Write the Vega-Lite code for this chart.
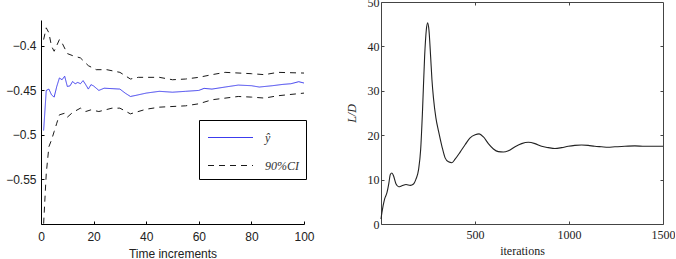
{
  "$schema": "https://vega.github.io/schema/vega-lite/v6.json",
  "background": "white",
  "padding": {"left": 5, "top": -4, "right": 0, "bottom": 0},
  "spacing": 77,
  "bounds": "flush",
  "config": {"view": {"stroke": null}},
  "datasets": {
    "left": [
      {"t": 1, "v": -0.495, "kind": "ŷ", "band": "m"},
      {"t": 2, "v": -0.450, "kind": "ŷ", "band": "m"},
      {"t": 3, "v": -0.4485, "kind": "ŷ", "band": "m"},
      {"t": 4, "v": -0.455, "kind": "ŷ", "band": "m"},
      {"t": 5, "v": -0.4575, "kind": "ŷ", "band": "m"},
      {"t": 6, "v": -0.4455, "kind": "ŷ", "band": "m"},
      {"t": 7, "v": -0.436, "kind": "ŷ", "band": "m"},
      {"t": 8, "v": -0.438, "kind": "ŷ", "band": "m"},
      {"t": 9, "v": -0.434, "kind": "ŷ", "band": "m"},
      {"t": 10, "v": -0.4455, "kind": "ŷ", "band": "m"},
      {"t": 11, "v": -0.445, "kind": "ŷ", "band": "m"},
      {"t": 12, "v": -0.440, "kind": "ŷ", "band": "m"},
      {"t": 13, "v": -0.4425, "kind": "ŷ", "band": "m"},
      {"t": 14, "v": -0.441, "kind": "ŷ", "band": "m"},
      {"t": 15, "v": -0.4425, "kind": "ŷ", "band": "m"},
      {"t": 16, "v": -0.439, "kind": "ŷ", "band": "m"},
      {"t": 17, "v": -0.4435, "kind": "ŷ", "band": "m"},
      {"t": 18, "v": -0.4485, "kind": "ŷ", "band": "m"},
      {"t": 19, "v": -0.4435, "kind": "ŷ", "band": "m"},
      {"t": 20, "v": -0.445, "kind": "ŷ", "band": "m"},
      {"t": 22, "v": -0.450, "kind": "ŷ", "band": "m"},
      {"t": 24, "v": -0.4475, "kind": "ŷ", "band": "m"},
      {"t": 27, "v": -0.448, "kind": "ŷ", "band": "m"},
      {"t": 30, "v": -0.4485, "kind": "ŷ", "band": "m"},
      {"t": 32, "v": -0.453, "kind": "ŷ", "band": "m"},
      {"t": 34, "v": -0.4568, "kind": "ŷ", "band": "m"},
      {"t": 36, "v": -0.4556, "kind": "ŷ", "band": "m"},
      {"t": 40, "v": -0.453, "kind": "ŷ", "band": "m"},
      {"t": 45, "v": -0.451, "kind": "ŷ", "band": "m"},
      {"t": 50, "v": -0.452, "kind": "ŷ", "band": "m"},
      {"t": 55, "v": -0.451, "kind": "ŷ", "band": "m"},
      {"t": 60, "v": -0.450, "kind": "ŷ", "band": "m"},
      {"t": 62, "v": -0.4477, "kind": "ŷ", "band": "m"},
      {"t": 65, "v": -0.4485, "kind": "ŷ", "band": "m"},
      {"t": 70, "v": -0.4462, "kind": "ŷ", "band": "m"},
      {"t": 75, "v": -0.444, "kind": "ŷ", "band": "m"},
      {"t": 80, "v": -0.4447, "kind": "ŷ", "band": "m"},
      {"t": 83, "v": -0.4462, "kind": "ŷ", "band": "m"},
      {"t": 88, "v": -0.4447, "kind": "ŷ", "band": "m"},
      {"t": 92, "v": -0.4432, "kind": "ŷ", "band": "m"},
      {"t": 95, "v": -0.4425, "kind": "ŷ", "band": "m"},
      {"t": 98, "v": -0.4402, "kind": "ŷ", "band": "m"},
      {"t": 100, "v": -0.4417, "kind": "ŷ", "band": "m"},
      {"t": 1, "v": -0.3929, "kind": "90%CI", "band": "u"},
      {"t": 2, "v": -0.3797, "kind": "90%CI", "band": "u"},
      {"t": 3, "v": -0.3853, "kind": "90%CI", "band": "u"},
      {"t": 4, "v": -0.4004, "kind": "90%CI", "band": "u"},
      {"t": 5, "v": -0.406, "kind": "90%CI", "band": "u"},
      {"t": 7, "v": -0.3929, "kind": "90%CI", "band": "u"},
      {"t": 8, "v": -0.3966, "kind": "90%CI", "band": "u"},
      {"t": 10, "v": -0.4086, "kind": "90%CI", "band": "u"},
      {"t": 12, "v": -0.4109, "kind": "90%CI", "band": "u"},
      {"t": 15, "v": -0.4135, "kind": "90%CI", "band": "u"},
      {"t": 18, "v": -0.4222, "kind": "90%CI", "band": "u"},
      {"t": 21, "v": -0.4267, "kind": "90%CI", "band": "u"},
      {"t": 25, "v": -0.4267, "kind": "90%CI", "band": "u"},
      {"t": 30, "v": -0.4297, "kind": "90%CI", "band": "u"},
      {"t": 34, "v": -0.4372, "kind": "90%CI", "band": "u"},
      {"t": 37, "v": -0.4353, "kind": "90%CI", "band": "u"},
      {"t": 45, "v": -0.4353, "kind": "90%CI", "band": "u"},
      {"t": 50, "v": -0.438, "kind": "90%CI", "band": "u"},
      {"t": 55, "v": -0.4372, "kind": "90%CI", "band": "u"},
      {"t": 60, "v": -0.4353, "kind": "90%CI", "band": "u"},
      {"t": 65, "v": -0.4323, "kind": "90%CI", "band": "u"},
      {"t": 70, "v": -0.4297, "kind": "90%CI", "band": "u"},
      {"t": 80, "v": -0.4312, "kind": "90%CI", "band": "u"},
      {"t": 85, "v": -0.4323, "kind": "90%CI", "band": "u"},
      {"t": 90, "v": -0.4297, "kind": "90%CI", "band": "u"},
      {"t": 100, "v": -0.4305, "kind": "90%CI", "band": "u"},
      {"t": 1, "v": -0.5996, "kind": "90%CI", "band": "l"},
      {"t": 2, "v": -0.5432, "kind": "90%CI", "band": "l"},
      {"t": 3, "v": -0.5132, "kind": "90%CI", "band": "l"},
      {"t": 4, "v": -0.5056, "kind": "90%CI", "band": "l"},
      {"t": 5, "v": -0.4962, "kind": "90%CI", "band": "l"},
      {"t": 6, "v": -0.4868, "kind": "90%CI", "band": "l"},
      {"t": 7, "v": -0.4774, "kind": "90%CI", "band": "l"},
      {"t": 9, "v": -0.4756, "kind": "90%CI", "band": "l"},
      {"t": 10, "v": -0.4801, "kind": "90%CI", "band": "l"},
      {"t": 12, "v": -0.4748, "kind": "90%CI", "band": "l"},
      {"t": 15, "v": -0.4699, "kind": "90%CI", "band": "l"},
      {"t": 17, "v": -0.4737, "kind": "90%CI", "band": "l"},
      {"t": 19, "v": -0.4718, "kind": "90%CI", "band": "l"},
      {"t": 22, "v": -0.4737, "kind": "90%CI", "band": "l"},
      {"t": 27, "v": -0.4699, "kind": "90%CI", "band": "l"},
      {"t": 30, "v": -0.4699, "kind": "90%CI", "band": "l"},
      {"t": 34, "v": -0.4763, "kind": "90%CI", "band": "l"},
      {"t": 40, "v": -0.4711, "kind": "90%CI", "band": "l"},
      {"t": 45, "v": -0.4688, "kind": "90%CI", "band": "l"},
      {"t": 55, "v": -0.4673, "kind": "90%CI", "band": "l"},
      {"t": 60, "v": -0.465, "kind": "90%CI", "band": "l"},
      {"t": 65, "v": -0.4605, "kind": "90%CI", "band": "l"},
      {"t": 75, "v": -0.4568, "kind": "90%CI", "band": "l"},
      {"t": 80, "v": -0.4575, "kind": "90%CI", "band": "l"},
      {"t": 85, "v": -0.4586, "kind": "90%CI", "band": "l"},
      {"t": 90, "v": -0.456, "kind": "90%CI", "band": "l"},
      {"t": 100, "v": -0.453, "kind": "90%CI", "band": "l"}
    ],
    "right": [
      {"it": 0, "ld": 1.1}, {"it": 5, "ld": 2.6}, {"it": 19, "ld": 5.6}, {"it": 32, "ld": 7.1},
      {"it": 41, "ld": 9.0}, {"it": 50, "ld": 11.2}, {"it": 58, "ld": 11.5}, {"it": 67, "ld": 10.8},
      {"it": 80, "ld": 9.0}, {"it": 94, "ld": 8.4}, {"it": 111, "ld": 8.6}, {"it": 133, "ld": 8.9},
      {"it": 156, "ld": 8.7}, {"it": 173, "ld": 9.0}, {"it": 186, "ld": 10.1}, {"it": 200, "ld": 12.3},
      {"it": 211, "ld": 16.8}, {"it": 221, "ld": 25.7}, {"it": 232, "ld": 37.7}, {"it": 241, "ld": 43.7},
      {"it": 248, "ld": 45.3}, {"it": 255, "ld": 43.7}, {"it": 264, "ld": 37.7}, {"it": 271, "ld": 32.5},
      {"it": 279, "ld": 28.4}, {"it": 292, "ld": 23.9}, {"it": 306, "ld": 20.9}, {"it": 324, "ld": 17.5},
      {"it": 341, "ld": 14.9}, {"it": 359, "ld": 14.0}, {"it": 377, "ld": 13.8}, {"it": 394, "ld": 14.6},
      {"it": 421, "ld": 16.2}, {"it": 448, "ld": 17.9}, {"it": 474, "ld": 19.4}, {"it": 501, "ld": 20.1},
      {"it": 522, "ld": 20.3}, {"it": 545, "ld": 19.6}, {"it": 571, "ld": 18.1}, {"it": 598, "ld": 16.9},
      {"it": 624, "ld": 16.3}, {"it": 651, "ld": 16.2}, {"it": 678, "ld": 16.5}, {"it": 713, "ld": 17.4},
      {"it": 748, "ld": 18.1}, {"it": 784, "ld": 18.4}, {"it": 819, "ld": 18.1}, {"it": 854, "ld": 17.5},
      {"it": 890, "ld": 17.2}, {"it": 925, "ld": 17.0}, {"it": 961, "ld": 17.2}, {"it": 996, "ld": 17.5},
      {"it": 1031, "ld": 17.7}, {"it": 1067, "ld": 17.8}, {"it": 1102, "ld": 17.7}, {"it": 1137, "ld": 17.5},
      {"it": 1173, "ld": 17.4}, {"it": 1208, "ld": 17.3}, {"it": 1244, "ld": 17.4}, {"it": 1297, "ld": 17.5},
      {"it": 1350, "ld": 17.6}, {"it": 1403, "ld": 17.5}, {"it": 1456, "ld": 17.5}, {"it": 1500, "ld": 17.5}
    ]
  },
  "hconcat": [
    {
      "width": 263,
      "height": 222,
      "data": {"name": "left"},
      "mark": {"type": "line", "strokeWidth": 1, "clip": true},
      "encoding": {
        "x": {
          "field": "t", "type": "quantitative",
          "scale": {"domain": [0, 100], "nice": false},
          "axis": {
            "values": [0, 20, 40, 60, 80, 100], "grid": false,
            "title": "Time increments", "titleFont": "Liberation Sans", "titleFontSize": 12,
            "titleFontWeight": "normal", "titleColor": "#222", "titlePadding": 6,
            "labelFont": "Liberation Sans", "labelFontSize": 12, "labelColor": "#222",
            "labelPadding": 10, "tickSize": -3, "tickColor": "#000", "domainColor": "#000",
            "labelFlush": false
          }
        },
        "y": {
          "field": "v", "type": "quantitative",
          "scale": {"domain": [-0.6, -0.3507], "nice": false, "zero": false},
          "axis": {
            "values": [-0.55, -0.5, -0.45, -0.4], "grid": false, "title": null,
            "labelExpr": "replace(format(datum.value, '~g'), '-', '\u2212')",
            "labelFont": "Liberation Sans", "labelFontSize": 12, "labelColor": "#222",
            "labelPadding": 8, "tickSize": -3, "tickColor": "#000", "domainColor": "#000",
            "domainDash": [204, 400]
          }
        },
        "color": {
          "field": "kind", "type": "nominal",
          "scale": {"domain": ["ŷ", "90%CI"], "range": ["#3c3cee", "#1a1a1a"]},
          "legend": {
            "orient": "none", "legendX": 158, "legendY": 118, "title": null,
            "strokeColor": "#000", "fillColor": "white", "padding": 7,
            "labelFont": "Liberation Serif", "labelFontStyle": "italic", "labelFontSize": 12,
            "labelColor": "#333", "labelOffset": 24, "rowPadding": 11, "symbolOffset": 14,
            "symbolType": "M-2.25,0H2.25", "symbolSize": 400, "symbolStrokeWidth": 1
          }
        },
        "strokeDash": {
          "field": "kind", "type": "nominal",
          "scale": {"domain": ["ŷ", "90%CI"], "range": [[1, 0], [6, 5]]},
          "legend": {
            "orient": "none", "legendX": 158, "legendY": 118, "title": null,
            "strokeColor": "#000", "fillColor": "white", "padding": 7,
            "labelFont": "Liberation Serif", "labelFontStyle": "italic", "labelFontSize": 12,
            "labelColor": "#333", "labelOffset": 24, "rowPadding": 11, "symbolOffset": 14,
            "symbolType": "M-2.25,0H2.25", "symbolSize": 400, "symbolStrokeWidth": 1
          }
        },
        "detail": {"field": "band", "type": "nominal"}
      }
    },
    {
      "width": 282,
      "height": 222,
      "data": {"name": "right"},
      "layer": [
        {
          "mark": {"type": "line", "color": "#222", "strokeWidth": 1.1, "interpolate": "monotone"},
          "encoding": {
            "x": {
              "field": "it", "type": "quantitative",
              "scale": {"domain": [0, 1500], "nice": false},
              "axis": {
                "values": [500, 1000, 1500], "format": "d", "grid": false, "title": "iterations",
                "titleFont": "Liberation Serif", "titleFontSize": 12, "titleFontWeight": "normal",
                "titleColor": "#222", "titlePadding": 5,
                "labelFont": "Liberation Serif", "labelFontSize": 12, "labelColor": "#222",
                "labelPadding": 8, "tickSize": -3, "tickColor": "#444", "domainColor": "#444",
                "labelFlush": false
              }
            },
            "y": {
              "field": "ld", "type": "quantitative",
              "scale": {"domain": [0, 50], "nice": false},
              "axis": {
                "values": [0, 10, 20, 30, 40, 50], "grid": false, "title": "L/D",
                "titleFont": "Liberation Serif", "titleFontSize": 12, "titleFontStyle": "italic",
                "titleFontWeight": "normal", "titleColor": "#222", "titlePadding": 9,
                "labelFont": "Liberation Serif", "labelFontSize": 12, "labelColor": "#222",
                "labelPadding": 5, "tickSize": -3, "tickColor": "#444", "domainColor": "#444",
                "labelFlush": false
              }
            }
          }
        },
        {
          "mark": {"type": "line", "strokeOpacity": 0},
          "encoding": {
            "x": {
              "field": "it", "type": "quantitative",
              "axis": {"orient": "top", "values": [500, 1000], "labels": false, "title": null, "grid": false,
                       "tickSize": -3, "tickColor": "#444", "domainColor": "#444"}
            },
            "y": {
              "field": "ld", "type": "quantitative",
              "axis": {"orient": "right", "values": [10, 20, 30, 40], "labels": false, "title": null, "grid": false,
                       "tickSize": -3, "tickColor": "#444", "domainColor": "#444"}
            }
          }
        }
      ],
      "resolve": {"axis": {"x": "independent", "y": "independent"}}
    }
  ]
}
